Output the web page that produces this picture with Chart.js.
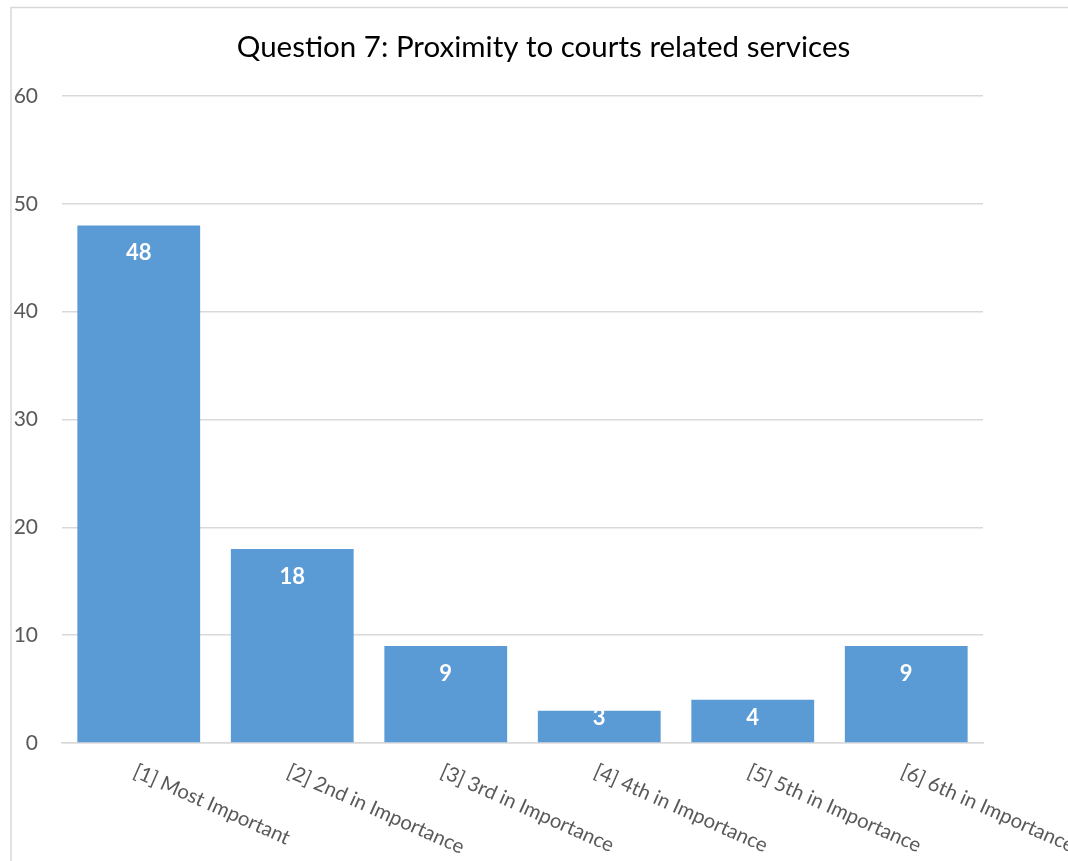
<!DOCTYPE html>
<html>
<head>
<meta charset="utf-8">
<script src="https://cdn.jsdelivr.net/npm/chart.js@4/dist/chart.umd.min.js"></script>
<style>
  html, body { margin: 0; padding: 0; background: #ffffff; }
  canvas { display: block; }
</style>
</head>
<body>
<canvas id="c" width="1068" height="861"></canvas>
<script>
const chartTitle = "Question 7: Proximity to courts related services";
const categories = ["[1] Most Important", "[2] 2nd in Importance", "[3] 3rd in Importance", "[4] 4th in Importance", "[5] 5th in Importance", "[6] 6th in Importance"];
const counts = [48, 18, 9, 3, 4, 9];
const yMin = 0, yMax = 60, yStep = 10;

const FONT = "Lato, 'Open Sans', 'Liberation Sans', sans-serif";

const framePlugin = {
  id: 'frame',
  beforeDraw(chart) {
    const ctx = chart.ctx;
    ctx.save();
    ctx.fillStyle = '#ffffff';
    ctx.fillRect(0, 0, chart.width, chart.height);
    ctx.strokeStyle = '#d9d9d9';
    ctx.lineWidth = 1.5;
    ctx.beginPath();
    ctx.moveTo(11, chart.height);
    ctx.lineTo(11, 7.5);
    ctx.lineTo(chart.width, 7.5);
    ctx.stroke();
    ctx.restore();
  },
  afterDraw(chart) {
    const ctx = chart.ctx;
    ctx.save();
    // title
    ctx.fillStyle = '#000000';
    ctx.font = "29.5px " + FONT;
    ctx.textAlign = 'center';
    ctx.textBaseline = 'middle';
    ctx.fillText(chartTitle, 543.5, 47);
    // rotated category labels
    const xs = chart.scales.x;
    ctx.fillStyle = '#595959';
    ctx.font = "20.3px " + FONT;
    ctx.textAlign = 'left';
    ctx.textBaseline = 'top';
    categories.forEach((lab, i) => {
      const px = xs.getPixelForTick(i);
      ctx.save();
      ctx.translate(px, xs.top + 18);
      ctx.rotate(24 * Math.PI / 180);
      ctx.fillText(lab, 0, 0);
      ctx.restore();
    });
    ctx.restore();
  },
  afterDatasetsDraw(chart) {
    const ctx = chart.ctx;
    const ys = chart.scales.y;
    const base = ys.getPixelForValue(0);
    const meta = chart.getDatasetMeta(0);
    ctx.save();
    ctx.fillStyle = '#ffffff';
    ctx.font = "bold 22px " + FONT;
    ctx.textAlign = 'center';
    ctx.textBaseline = 'middle';
    meta.data.forEach((bar, i) => {
      const y = Math.min(bar.y + 28, base - 25);
      ctx.fillText(String(counts[i]), bar.x, y);
    });
    ctx.restore();
  }
};

new Chart(document.getElementById('c'), {
  type: 'bar',
  data: {
    labels: categories,
    datasets: [{
      data: counts,
      backgroundColor: '#5b9bd5',
      borderWidth: 0,
      barPercentage: 0.8,
      categoryPercentage: 1.0
    }]
  },
  options: {
    responsive: false,
    animation: false,
    layout: { padding: { left: 11, right: 85, top: 96, bottom: 0 } },
    plugins: {
      legend: { display: false },
      title: { display: false },
      tooltip: { enabled: false }
    },
    scales: {
      x: {
        grid: { display: false, drawTicks: false },
        border: { display: true, color: '#d9d9d9', width: 1.5 },
        ticks: { display: false },
        afterFit(scale) { scale.height = 118; }
      },
      y: {
        min: yMin,
        max: yMax,
        grid: { color: '#d9d9d9', lineWidth: 1.5, drawTicks: false },
        border: { display: false },
        ticks: {
          stepSize: yStep,
          padding: 24,
          color: '#595959',
          font: { family: FONT, size: 21 }
        },
        afterFit(scale) { scale.width = 51; }
      }
    }
  },
  plugins: [framePlugin]
});
</script>
</body>
</html>
